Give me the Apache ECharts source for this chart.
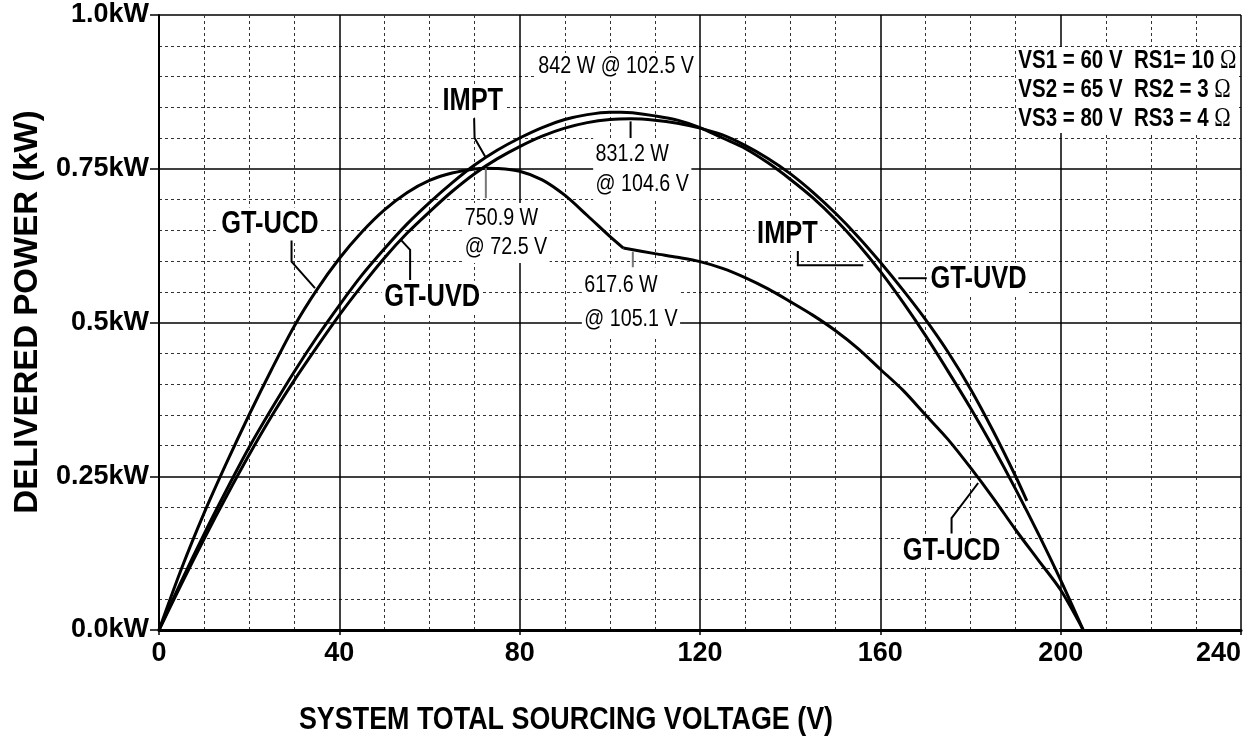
<!DOCTYPE html>
<html>
<head>
<meta charset="utf-8">
<script src="https://cdn.jsdelivr.net/npm/echarts@6/dist/echarts.min.js"></script>
<style>
  html, body { margin: 0; padding: 0; background: #fff; }
  #main { width: 1254px; height: 738px; }
</style>
</head>
<body>
<div id="main"></div>
<script>
// values: [voltage V, power kW]
const imptPoints = [
  [0, 0], [5, 0.08], [10, 0.156], [15, 0.228], [20, 0.297], [25, 0.36], [30, 0.42],
  [35, 0.476], [40, 0.528], [45, 0.577], [50, 0.62], [55, 0.66], [60, 0.695],
  [65, 0.727], [70, 0.756], [75, 0.78], [80, 0.80], [85, 0.817], [90, 0.83],
  [95, 0.838], [100, 0.842], [102.5, 0.842], [105, 0.841], [110, 0.836], [115, 0.829],
  [120, 0.817], [125, 0.80], [130, 0.783], [135, 0.76], [140, 0.733], [145, 0.703],
  [150, 0.668], [155, 0.628], [160, 0.583], [165, 0.533], [170, 0.479], [175, 0.421],
  [180, 0.361], [185, 0.297], [190, 0.229], [195, 0.157], [200, 0.081], [205, 0]
];
const gtUvdPoints = [
  [0, 0], [5, 0.075], [10, 0.148], [15, 0.218], [20, 0.285], [25, 0.348], [30, 0.406],
  [35, 0.46], [40, 0.512], [45, 0.56], [50, 0.605], [55, 0.645], [60, 0.68],
  [65, 0.713], [70, 0.742], [75, 0.766], [80, 0.786], [85, 0.803], [90, 0.816],
  [95, 0.825], [100, 0.83], [104.6, 0.8312], [110, 0.829], [115, 0.824], [120, 0.816],
  [125, 0.805], [130, 0.788], [135, 0.767], [140, 0.742], [145, 0.712], [150, 0.678],
  [155, 0.64], [160, 0.598], [165, 0.553], [170, 0.505], [175, 0.452], [180, 0.392],
  [185, 0.324], [190, 0.25], [192.5, 0.21]
];
const gtUcdRise = [
  [0, 0], [5, 0.1], [10, 0.19], [15, 0.272], [20, 0.35], [25, 0.424], [30, 0.494],
  [35, 0.553], [40, 0.604], [45, 0.647], [50, 0.683], [55, 0.711], [60, 0.731],
  [65, 0.743], [70, 0.7497], [72.5, 0.7509], [75, 0.7505], [80, 0.746], [85, 0.732],
  [90, 0.707], [95, 0.674], [100, 0.64], [103, 0.621]
];
const gtUcdFall = [
  [103, 0.621], [110, 0.612], [115, 0.606], [120, 0.599], [125, 0.588], [130, 0.573],
  [135, 0.555], [140, 0.534], [145, 0.512], [150, 0.487], [155, 0.458], [160, 0.424],
  [165, 0.39], [170, 0.35], [175, 0.31], [180, 0.264], [185, 0.215], [190, 0.163],
  [195, 0.114], [200, 0.065], [205, 0]
];
const yTickLabels = ['0.0kW', '0.25kW', '0.5kW', '0.75kW', '1.0kW'];

const SANS = "'Liberation Sans', Arial, sans-serif";
const SQUEEZE = 0.82;   // the plot uses a condensed face

// callouts, anchored in data units
const callouts = [
  { text: '842 W @ 102.5 V', at: [101.4, 0.917], size: 24, bold: false, align: 'center' },
  { text: 'IMPT', at: [69.6, 0.86], size: 31, bold: true, align: 'center' },
  { text: 'GT-UCD', at: [24.6, 0.66], size: 31, bold: true, align: 'center' },
  { text: 'GT-UVD', at: [60.6, 0.541], size: 31, bold: true, align: 'center' },
  { text: '750.9 W\n@ 72.5 V', at: [67.3, 0.6455], size: 24, bold: false, align: 'left', lh: 29 },
  { text: '831.2 W\n@ 104.6 V', at: [96.3, 0.7496], size: 24, bold: false, align: 'left', lh: 30 },
  { text: '617.6 W\n@ 105.1 V', at: [93.8, 0.533], size: 24, bold: false, align: 'left', lh: 34 },
  { text: 'IMPT', at: [139.4, 0.643], size: 31, bold: true, align: 'center' },
  { text: 'GT-UVD', at: [170.6, 0.570], size: 31, bold: true, align: 'left' },
  { text: 'GT-UCD', at: [175.8, 0.128], size: 31, bold: true, align: 'center' }
];
const leaders = [
  { pts: [[69.9, 0.832], [70.0, 0.80], [72.5, 0.768]], color: '#000' },
  { pts: [[29.4, 0.634], [29.4, 0.599], [34.6, 0.556]], color: '#000' },
  { pts: [[55.7, 0.569], [55.7, 0.618], [53.7, 0.634]], color: '#000' },
  { pts: [[72.5, 0.751], [72.5, 0.702]], color: '#777' },
  { pts: [[104.6, 0.827], [104.6, 0.794]], color: '#000' },
  { pts: [[105.1, 0.615], [105.1, 0.585]], color: '#777' },
  { pts: [[141.7, 0.621], [141.7, 0.593], [156.2, 0.593]], color: '#000' },
  { pts: [[164.0, 0.572], [170.3, 0.572]], color: '#000' },
  { pts: [[175.8, 0.157], [175.8, 0.182], [181.7, 0.239]], color: '#000' }
];
const sourceRows = [
  ['VS1 = 60 V  RS1= 10 ', 'Ω'],
  ['VS2 = 65 V  RS2 = 3 ', 'Ω'],
  ['VS3 = 80 V  RS3 = 4 ', 'Ω']
];

function curve(name, data) {
  return {
    name: name, type: 'line', data: data, symbol: 'none', smooth: 0.3, z: 3,
    lineStyle: { color: '#000', width: 3 }
  };
}

const chart = echarts.init(document.getElementById('main'));
chart.setOption({
  animation: false,
  backgroundColor: '#fff',
  grid: { left: 159, right: 13, top: 15, bottom: 108, outerBoundsMode: 'none' },
  xAxis: {
    type: 'value', min: 0, max: 240, interval: 40,
    axisLine: { onZero: false, lineStyle: { color: '#000', width: 3 } },
    axisTick: { show: true, length: 5, lineStyle: { color: '#000', width: 1.5 } },
    axisLabel: { color: '#000', fontSize: 27, fontWeight: 'bold', fontFamily: SANS, margin: 10, alignMaxLabel: 'right' },
    splitLine: { show: true, lineStyle: { color: '#000', width: 1.5 } },
    minorTick: { show: false, splitNumber: 4 },
    minorSplitLine: { show: true, lineStyle: { color: '#333', width: 1, type: [3, 3] } }
  },
  yAxis: {
    type: 'value', min: 0, max: 1, interval: 0.25,
    axisLine: { show: true, onZero: false, lineStyle: { color: '#000', width: 2 } },
    axisTick: { show: true, length: 9, lineStyle: { color: '#000', width: 1.5 } },
    axisLabel: {
      color: '#000', fontSize: 27, fontWeight: 'bold', fontFamily: SANS, margin: 10,
      formatter: function (v) { return yTickLabels[Math.round(v / 0.25)]; }
    },
    splitLine: { show: true, lineStyle: { color: '#000', width: 1.5 } },
    minorTick: { show: false, splitNumber: 5 },
    minorSplitLine: { show: true, lineStyle: { color: '#333', width: 1, type: [3, 3] } }
  },
  series: [
    curve('IMPT', imptPoints),
    curve('GT-UVD', gtUvdPoints),
    curve('GT-UCD', gtUcdRise),
    curve('GT-UCD', gtUcdFall)
  ]
});

const toPx = function (p) { return chart.convertToPixel({ gridIndex: 0 }, p); };
const graphics = [];

leaders.forEach(function (l) {
  graphics.push({
    type: 'polyline', z: 50,
    shape: { points: l.pts.map(toPx) },
    style: { stroke: l.color, lineWidth: 2, fill: null }
  });
});

callouts.forEach(function (c) {
  const p = toPx(c.at);
  graphics.push({
    type: 'text', x: p[0], y: p[1], z: 60, scaleX: SQUEEZE,
    style: {
      text: c.text, fill: '#000', fontSize: c.size, fontFamily: SANS,
      fontWeight: c.bold ? 'bold' : 'normal', lineHeight: c.lh || c.size,
      align: c.align, verticalAlign: 'middle',
      backgroundColor: '#fff', padding: [1, 3]
    }
  });
});

// white panel with source values
const boxA = toPx([190.2, 0.948]);
const boxB = toPx([239.4, 0.808]);
graphics.push({
  type: 'rect', z: 55,
  shape: { x: boxA[0], y: boxA[1], width: boxB[0] - boxA[0], height: boxB[1] - boxA[1] },
  style: { fill: '#fff' }
});
const rowTop = toPx([190.6, 0.9488]);
graphics.push({
  type: 'text', x: rowTop[0], y: rowTop[1], z: 60, scaleX: SQUEEZE,
  style: {
    text: sourceRows.map(function (r) { return '{a|' + r[0] + '}{o|' + r[1] + '}'; }).join('\n'),
    align: 'left', verticalAlign: 'top', lineHeight: 29,
    rich: {
      a: { fontSize: 25, fontWeight: 'bold', fontFamily: SANS, fill: '#000', lineHeight: 29 },
      o: { fontSize: 27, fontFamily: "'Liberation Serif', serif", fill: '#000', lineHeight: 29 }
    }
  }
});

// axis titles
graphics.push({
  type: 'text', x: 566, y: 720, z: 60, scaleX: 0.84,
  style: {
    text: 'SYSTEM TOTAL SOURCING VOLTAGE (V)', fill: '#000', fontSize: 32,
    fontWeight: 'bold', fontFamily: SANS, align: 'center', verticalAlign: 'middle'
  }
});
graphics.push({
  type: 'text', x: 28, y: 312, rotation: Math.PI / 2, z: 60,
  style: {
    text: 'DELIVERED POWER (kW)', fill: '#000', fontSize: 33,
    fontWeight: 'bold', fontFamily: SANS, align: 'center', verticalAlign: 'middle'
  }
});

chart.setOption({ graphic: graphics });
</script>
</body>
</html>
